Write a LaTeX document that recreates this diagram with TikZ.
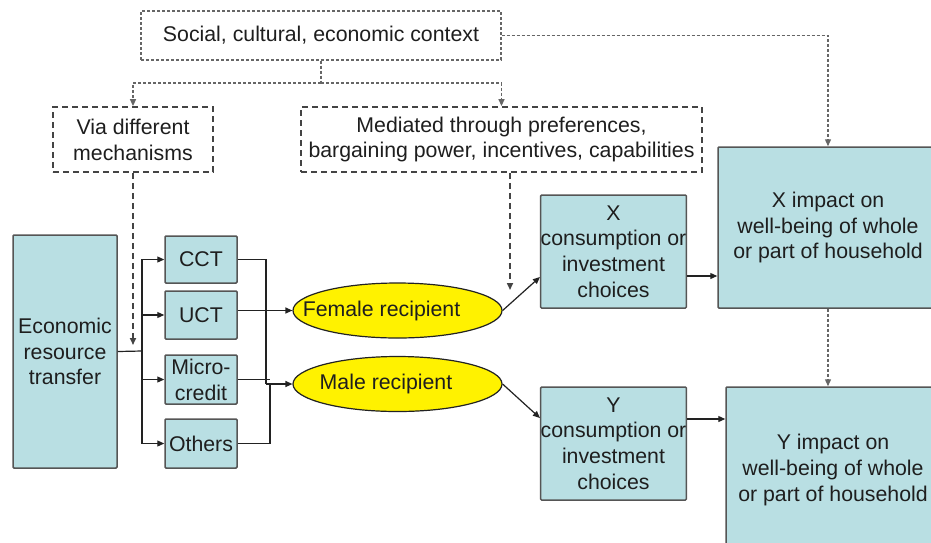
\documentclass[tikz,border=0pt]{standalone}
\usepackage{fontspec}
\setmainfont{Liberation Sans}
\usetikzlibrary{shapes.geometric,arrows.meta,calc}
\definecolor{boxfill}{HTML}{B9DFE3}
\definecolor{boxline}{HTML}{555555}
\definecolor{txt}{HTML}{1E1E1E}
\definecolor{ctxgray}{HTML}{666666}
\definecolor{dashdark}{HTML}{444444}
\definecolor{connc}{HTML}{222222}
\begin{document}
\begin{tikzpicture}[x=1pt,y=-1pt,
  every node/.style={font=\fontsize{21.3}{25.8}\selectfont, text=txt, inner sep=0pt, align=center},
  sbox/.style={draw=boxline, fill=boxfill, line width=1.5pt, rounded corners=1pt},
  ctxbox/.style={draw=ctxgray, fill=white, line width=1.3pt, dash pattern=on 3pt off 2pt},
  mbox/.style={draw=dashdark, fill=white, line width=1.8pt, dash pattern=on 6pt off 4pt},
  oval/.style={ellipse, draw=connc, fill=yellow, line width=1.2pt, minimum width=209pt, minimum height=55pt},
  ctxline/.style={draw=ctxgray, line width=1.3pt, dash pattern=on 3pt off 2pt},
  mline/.style={draw=dashdark, line width=1.6pt, dash pattern=on 6pt off 4pt},
  conn/.style={draw=connc, line width=1.2pt},
  arr/.style={-{Triangle[length=7pt,width=6pt]}}
]
\useasboundingbox (0,0) rectangle (931,542);
\fill[white] (0,0) rectangle (931,542);
\clip (0,0) rectangle (931,542);

% nodes
\node[ctxbox, minimum width=360pt, minimum height=49pt] (ctx) at (321,35.5) {Social, cultural, economic context};
\node[mbox, minimum width=160pt, minimum height=65pt] (via) at (133,139.5) {Via different\\mechanisms};
\node[mbox, minimum width=401pt, minimum height=65pt] (med) at (501.5,139.5) {Mediated through preferences,\\bargaining power, incentives, capabilities};
\node[sbox, minimum width=104pt, minimum height=233pt] (ert) at (65,351.5) {Economic\\resource\\transfer};
\node[sbox, minimum width=72pt, minimum height=47pt] (cct) at (201,259.5) {CCT};
\node[sbox, minimum width=72pt, minimum height=48pt] (uct) at (201,315) {UCT};
\node[sbox, minimum width=72pt, minimum height=49pt] (micro) at (201,379.5) {Micro-\\credit};
\node[sbox, minimum width=72pt, minimum height=49pt] (others) at (201,443.5) {Others};
\node[oval] (female) at (397.5,310.5) {\makebox[0pt]{\hspace{-32pt}Female recipient}};
\node[oval] (male) at (397.5,384) {\makebox[0pt]{\hspace{-23pt}Male recipient}};
\node[sbox, minimum width=145pt, minimum height=113pt] (xch) at (613.5,251.5) {X\\consumption or\\investment\\choices};
\node[sbox, minimum width=145pt, minimum height=113pt] (ych) at (613.5,443.5) {Y\\consumption or\\investment\\choices};
\node[sbox, minimum width=220pt, minimum height=161pt] (ximp) at (828,227.5) {X impact on\\well-being of whole\\or part of household};
\node[sbox, minimum width=214pt, minimum height=166pt] (yimp) at (833,470) {Y impact on\\well-being of whole\\or part of household};

% context connectors
\coordinate (split) at (321,83);
\draw[ctxline] (ctx.south) -- (split);
\draw[ctxline, arr] (split) -| (via.north);
\draw[ctxline, arr] (split) -| (med.north);
\draw[ctxline, arr] (ctx.east) -| (ximp.north);
\coordinate (viaend) at (133,345);
\draw[mline, arr] (via.south) -- (viaend);
\coordinate (medend) at (510,290);
\draw[mline, arr] (medend |- med.south) -- (medend);
\draw[ctxline, arr] (ximp.south) -- (ximp.south |- yimp.north);

% transfer bus
\coordinate (bus) at (142,351);
\draw[conn] (ert.east) -- (bus);
\foreach \n in {cct,uct,micro,others} \draw[conn,arr] (bus) |- (\n.west);

% to recipients
\coordinate (j1) at (266,0);
\coordinate (j2) at (270,0);
\draw[conn] (cct.east) -| (j1 |- male.west);
\draw[conn] (uct.east |- female.west) -- (j1 |- female.west);
\draw[conn,arr] (j1 |- female.west) -- (female.west);
\draw[conn,arr] (j1 |- male.west) -- (male.west);
\draw[conn] (others.east) -| (j2 |- male.west);
\draw[conn] (micro.east) -- (micro.east -| j2);

% to choices
\draw[conn,arr] (female.east) -- ([yshift=-25.5pt]xch.west);
\draw[conn,arr] (male.east) -- ([yshift=25.5pt]ych.west);
\path ([yshift=-24.5pt]xch.east) coordinate (a1);
\path ([yshift=24.5pt]ych.east) coordinate (a2);
\draw[conn,arr] (a1) -- (a1 -| ximp.west);
\draw[conn,arr] (a2) -- (a2 -| yimp.west);
\end{tikzpicture}
\end{document}
